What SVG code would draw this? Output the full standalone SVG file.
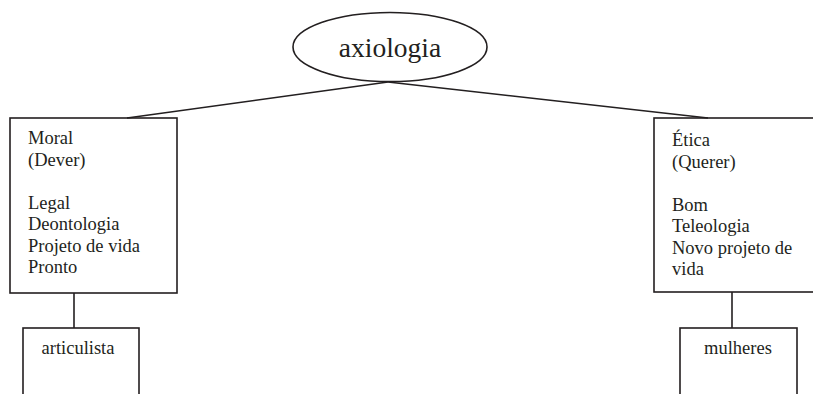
<svg xmlns="http://www.w3.org/2000/svg" width="813" height="394" viewBox="0 0 813 394">
<style>
.s{fill:none;stroke:#231f20;stroke-width:1.6}
.t{font-family:"Liberation Serif","Times New Roman",serif;font-size:18.5px;fill:#231f20}
.big{font-size:27.5px}
</style>
<rect width="813" height="394" fill="#fff"/>
<g id="connectors">
<path class="s" d="M388 82 L127 118"/>
<path class="s" d="M388 82 L708 118"/>
<path class="s" d="M74 293 V328"/>
<path class="s" d="M732 292 V328"/>
</g>
<g id="axiologia">
<ellipse class="s" cx="390" cy="47" rx="97" ry="34.5"/>
<text class="t big" x="390" y="57" text-anchor="middle">axiologia</text>
</g>
<g id="moral">
<rect class="s" x="10" y="118" width="167" height="175"/>
<text class="t" x="28" y="144">Moral</text>
<text class="t" x="28" y="165.5">(Dever)</text>
<text class="t" x="28" y="208.5">Legal</text>
<text class="t" x="28" y="230">Deontologia</text>
<text class="t" x="28" y="251.5">Projeto de vida</text>
<text class="t" x="28" y="273">Pronto</text>
</g>
<g id="etica">
<rect class="s" x="654" y="118" width="170" height="174"/>
<text class="t" x="672" y="146">Ética</text>
<text class="t" x="672" y="167.5">(Querer)</text>
<text class="t" x="672" y="210.5">Bom</text>
<text class="t" x="672" y="232">Teleologia</text>
<text class="t" x="672" y="253.5">Novo projeto de</text>
<text class="t" x="672" y="275">vida</text>
</g>
<g id="articulista">
<rect class="s" x="23" y="328" width="116" height="80"/>
<text class="t" x="78" y="354" text-anchor="middle">articulista</text>
</g>
<g id="mulheres">
<rect class="s" x="680" y="328" width="117" height="80"/>
<text class="t" x="738" y="354" text-anchor="middle">mulheres</text>
</g>
</svg>
